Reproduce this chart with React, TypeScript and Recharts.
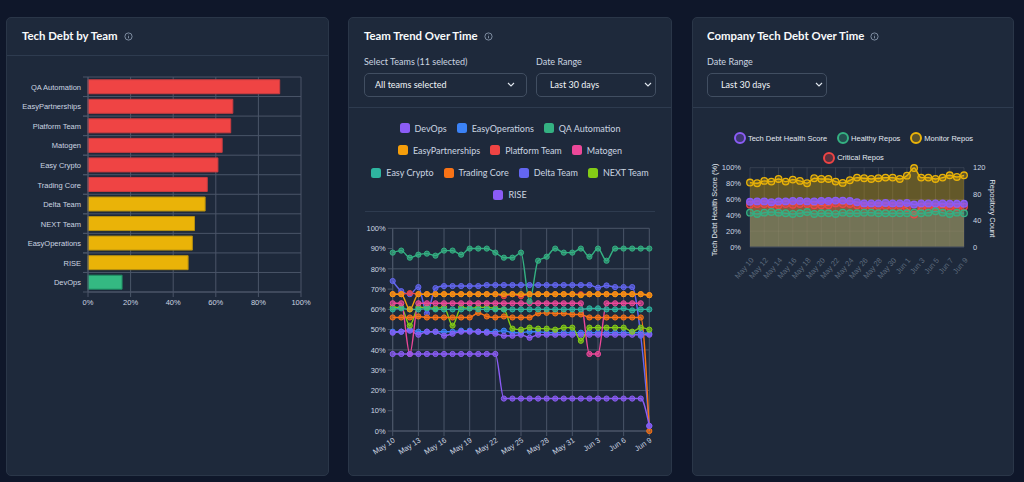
import {
  Area,
  Bar,
  BarChart,
  CartesianGrid,
  Cell,
  ComposedChart,
  Line,
  LineChart,
  XAxis,
  YAxis,
} from 'recharts';

const barTeams = ['QA Automation', 'EasyPartnerships', 'Platform Team', 'Matogen', 'Easy Crypto', 'Trading Core', 'Delta Team', 'NEXT Team', 'EasyOperations', 'RISE', 'DevOps'];
const barValues = [90, 68, 67, 63, 61, 56, 55, 50, 49, 47, 16];
const barColors = ['#ef4444', '#ef4444', '#ef4444', '#ef4444', '#ef4444', '#ef4444', '#eab308', '#eab308', '#eab308', '#eab308', '#34b982'];
const barBorders = ['#c93c40', '#c93c40', '#c93c40', '#c93c40', '#c93c40', '#c93c40', '#b58f10', '#b58f10', '#b58f10', '#b58f10', '#1f8a62'];

const dates = ['May 10', 'May 11', 'May 12', 'May 13', 'May 14', 'May 15', 'May 16', 'May 17', 'May 18', 'May 19', 'May 20', 'May 21', 'May 22', 'May 23', 'May 24', 'May 25', 'May 26', 'May 27', 'May 28', 'May 29', 'May 30', 'May 31', 'Jun 1', 'Jun 2', 'Jun 3', 'Jun 4', 'Jun 5', 'Jun 6', 'Jun 7', 'Jun 8', 'Jun 9'];

const devOps = [38, 38, 38, 38, 38, 38, 38, 38, 38, 38, 38, 38, 38, 16, 16, 16, 16, 16, 16, 16, 16, 16, 16, 16, 16, 16, 16, 16, 16, 16, 2.5];
const easyOperations = [49, 49, 50, 49, 49, 49, 49, 49, 49.5, 49.5, 49, 49, 49, 49.5, 48.5, 48.5, 49, 49, 48.5, 48.5, 48.5, 48.5, 48.5, 48.5, 48.5, 48.5, 48.5, 48.5, 48.5, 48.5, 48];
const qaAutomation = [88, 89, 85.5, 87, 87.5, 86.5, 89, 89, 87, 90, 90, 90, 88, 85.5, 85.5, 88, 64, 84, 86, 90, 88, 88, 90, 86, 90, 84, 90, 90, 90, 90, 90];
const easyPartnerships = [67.5, 67.5, 60, 67.5, 67.5, 67.5, 67.5, 67.5, 67.5, 67.5, 67.5, 67.5, 67.5, 67.5, 67.5, 67.5, 67.5, 67.5, 67.5, 67.5, 67.5, 67.5, 67, 67.5, 67.5, 67.5, 67.5, 67.5, 67.5, 67.5, 67];
const platformTeam = [67.5, 67.5, 68, 67.5, 67.5, 67.5, 67.5, 67.5, 67.5, 67.5, 67.5, 67.5, 67.5, 66.5, 67.5, 66.5, 67.5, 67.5, 67.5, 67.5, 67.5, 67.5, 67.5, 67.5, 67.5, 67.5, 67.5, 67.5, 67.5, 67.5, 67];
const matogen = [63, 63, 38, 63, 63, 63, 63, 63, 63, 63, 63, 63, 63, 63, 63, 63, 63, 63, 63, 63, 63, 63, 63, 38, 38, 63, 63, 63, 63, 63, null];
const easyCrypto = [60, 60.5, 60, 60, 60.5, 60, 60, 60, 60, 60.5, 60, 60, 60, 60, 60, 60, 60, 60, 60, 60, 60, 60, 60, 60.5, 60.5, 60, 60, 60.5, 59.5, 60, 60];
const tradingCore = [56, 56, 56, 56.5, 56, 56, 56, 56, 56, 56, 58.3, 56.5, 56, 56.5, 56, 56, 56, 58, 58.3, 58, 58, 57.5, 57.5, 56, 56, 56, 56, 56, 56, 56, 0];
const deltaTeam = [74, 69, 67.5, 71, 58, 70.5, 71.5, 71.5, 71.5, 71.5, 71.5, 72, 72, 72, 72, 72, 72, 72, 72, 72, 72, 72, 72, 72, 70.7, 71.8, 71, 71, 71, 47, 2.5];
const nextTeam = [61, 61, 52, 61, 61, 60.5, 61, 52, 61, 60.5, 61, 61, 60.5, 60, 50.5, 50, 51, 50.5, 50.5, 50, 51, 51, 44.5, 51, 51, 51, 51, 51, 49, 51, 50];
const rise = [48.5, 49, 49.5, 47.5, 49, 49, 47, 48, 49, 49, 49, 48.5, 48, 47, 47, 47.5, 46, 47.5, 47.5, 47.5, 47.5, 47.5, 47.5, 47.5, 47.5, 47.5, 47.5, 47.5, 47.5, 47.5, 47.5];

const teamNames = ['DevOps', 'EasyOperations', 'QA Automation', 'EasyPartnerships', 'Platform Team', 'Matogen', 'Easy Crypto', 'Trading Core', 'Delta Team', 'NEXT Team', 'RISE'];
const teamSeries = [devOps, easyOperations, qaAutomation, easyPartnerships, platformTeam, matogen, easyCrypto, tradingCore, deltaTeam, nextTeam, rise];
const teamColors = ['#8b5cf6', '#3b82f6', '#34b182', '#f59e0b', '#ef4444', '#ec4899', '#2eb5a0', '#f97316', '#6366f1', '#84cc16', '#8b5cf6'];
const legendRows = [[0, 3], [3, 6], [6, 10], [10, 11]];
// EasyOperations sits under everything else, its dots are barely visible in the picture
const drawOrder = ['EasyOperations', 'RISE', 'NEXT Team', 'Delta Team', 'Trading Core', 'Easy Crypto', 'Matogen', 'Platform Team', 'EasyPartnerships', 'QA Automation', 'DevOps'];

const healthScore = [57, 57.5, 57.5, 56.5, 57.5, 57.5, 58, 58, 57.5, 57.5, 58, 58, 58.5, 58.5, 58, 56.5, 55, 55, 55, 55.5, 55, 55, 55.5, 53.5, 55, 55, 55, 55, 54.5, 54.5, 54.5];
const healthyRepos = [52, 50, 52, 53, 52, 51, 50, 51, 53, 50, 51, 51, 50, 52, 51, 51, 52, 52, 51, 51, 51, 51, 51, 52, 51, 52, 54, 52, 50, 52, 51];
const monitorRepos = [97.5, 96.5, 100, 99, 103, 99, 102, 100, 96.5, 104, 103, 103, 99, 97, 101, 105, 104, 103, 104, 105, 105, 103, 108, 119.5, 105, 105, 103, 105, 108.5, 106, 108.5];
const criticalRepos = [64, 65, 65, 64, 63, 65, 64, 65, 65, 63, 63, 63, 66, 65, 65, 63, 62, 62, 62, 62, 62, 62, 59, 49, 61, 61, 61, 60, 61, 60, 61];

const companyNames = ['Tech Debt Health Score', 'Healthy Repos', 'Monitor Repos', 'Critical Repos'];
const companyColors = ['#8b5cf6', '#34b182', '#eab308', '#ef4444'];
const companySeries = [healthScore, healthyRepos, monitorRepos, criticalRepos];
const companyAxes = ['left', 'right', 'right', 'right'];
const companyFill = [0.1, 0.3, 0.34, 0.3];
const companyDotFill = [0.8, 0.35, 0.3, 0.4];

const barData = barTeams.map((team, i) => ({ team, value: barValues[i] }));
const teamData = dates.map((date, i) => {
  const row: Record<string, any> = { date };
  teamNames.forEach((name, s) => { row[name] = teamSeries[s][i]; });
  return row;
});
const companyData = dates.map((date, i) => {
  const row: Record<string, any> = { date };
  companyNames.forEach((name, s) => { row[name] = companySeries[s][i]; });
  return row;
});

const titleFont = 'Lato, "Noto Sans", sans-serif';
const chartFont = '"Liberation Sans", Arial, sans-serif';
const gridColor = '#4a5568';
const tickStyle = { fontSize: 7.5, fill: '#cbd5e1', fontFamily: chartFont };

const Card = ({ left, width, children }: any) => (
  <div style={{ position: 'absolute', left, top: 17, width, height: 459, boxSizing: 'border-box', background: '#1e293b', border: '1px solid #2a3648', borderRadius: 5 }}>
    {children}
  </div>
);

const Title = ({ left, text }: any) => (
  <div style={{ position: 'absolute', left, top: 9, height: 18, lineHeight: '18px', whiteSpace: 'nowrap', color: '#f8fafc', fontFamily: titleFont, fontWeight: 700, fontSize: 11.4, display: 'flex', alignItems: 'center', gap: 6 }}>
    {text}
    <svg width="9" height="9" viewBox="0 0 10 10">
      <circle cx="5" cy="5" r="4" fill="none" stroke="#94a3b8" strokeWidth="0.9" />
      <path d="M5 4.6v2.4M5 3v0.6" stroke="#94a3b8" strokeWidth="0.9" />
    </svg>
  </div>
);

const Divider = ({ left, right, top }: any) => (
  <div style={{ position: 'absolute', left, right, top, height: 1, background: '#2e3b4f' }} />
);

const Select = ({ left, top, width, text, pad, label }: any) => (
  <>
    <div style={{ position: 'absolute', left, top: top - 17, color: '#cbd5e1', fontFamily: titleFont, fontSize: 9, lineHeight: '12px', whiteSpace: 'nowrap' }}>{label}</div>
    <div style={{ position: 'absolute', left, top, width, height: 24, boxSizing: 'border-box', border: '1px solid #414e61', borderRadius: 5, color: '#f1f5f9', fontFamily: titleFont, fontSize: 9, lineHeight: '22px', paddingLeft: pad, whiteSpace: 'nowrap' }}>
      {text}
      <svg width="8" height="6" viewBox="0 0 8 6" style={{ position: 'absolute', right: pad > 12 ? 3 : 11, top: 8 }}>
        <path d="M1 1l3 3 3-3" fill="none" stroke="#e2e8f0" strokeWidth="1.1" />
      </svg>
    </div>
  </>
);

// category boundaries get the grid line and a small stub, like the original chart
const BarTick = ({ x, y, payload }: any) => (
  <g>
    <line x1={x + 2} x2={x + 7} y1={y - 9.77} y2={y - 9.77} stroke={gridColor} />
    <line x1={x + 2} x2={x + 7} y1={y + 9.77} y2={y + 9.77} stroke={gridColor} />
    <text x={x} y={y} dy={3} textAnchor="end" {...tickStyle}>{payload.value}</text>
  </g>
);

export default function App() {
  return (
    <div style={{ position: 'absolute', left: 0, top: 0, width: 1024, height: 482, overflow: 'hidden', background: '#0f172a' }}>
      <Card left={6} width={323}>
        <Title left={15} text="Tech Debt by Team" />
        <Divider left={0} right={0} top={37} />
      </Card>
      <Card left={348} width={324}>
        <Title left={15} text="Team Trend Over Time" />
        <Select left={15} top={55} width={163} text="All teams selected" pad={10} label="Select Teams (11 selected)" />
        <Select left={187} top={55} width={120} text="Last 30 days" pad={13} label="Date Range" />
        <Divider left={0} right={0} top={89} />
        {legendRows.map(([from, to]: number[], r: number) => (
          <div key={r} style={{ position: 'absolute', left: 0, right: 0, top: 100 + r * 22.3, height: 20, display: 'flex', justifyContent: 'center', alignItems: 'center', gap: 10 }}>
            {teamNames.slice(from, to).map((name, i) => (
              <div key={name} style={{ display: 'flex', alignItems: 'center', gap: 5, whiteSpace: 'nowrap', color: '#cbd5e1', fontFamily: titleFont, fontSize: 9 }}>
                <span style={{ width: 10, height: 10, borderRadius: 2.5, background: teamColors[from + i] }} />
                {name}
              </div>
            ))}
          </div>
        ))}
        <Divider left={16} right={16} top={193} />
      </Card>
      <Card left={692} width={322}>
        <Title left={14} text="Company Tech Debt Over Time" />
        <Select left={14} top={55} width={120} text="Last 30 days" pad={13} label="Date Range" />
        <Divider left={0} right={0} top={89} />
        {[[0, 3], [3, 4]].map(([from, to]: number[], r: number) => (
          <div key={r} style={{ position: 'absolute', left: 0, right: -1, top: 112 + r * 19.5, height: 16, display: 'flex', justifyContent: 'center', alignItems: 'center', gap: 10 }}>
            {companyNames.slice(from, to).map((name, i) => (
              <div key={name} style={{ display: 'flex', alignItems: 'center', gap: 2, whiteSpace: 'nowrap', color: '#e2e8f0', fontFamily: chartFont, fontSize: 7.5 }}>
                <span style={{ width: 8, height: 8, borderRadius: '50%', border: `2px solid ${companyColors[from + i]}`, background: companyColors[from + i] + '4d' }} />
                {name}
              </div>
            ))}
          </div>
        ))}
      </Card>

      <div style={{ position: 'absolute', left: 8, top: 60 }}>
        <BarChart width={320} height={262} data={barData} layout="vertical" margin={{ top: 17, right: 27, bottom: 0, left: 10 }} barCategoryGap="14%">
          <CartesianGrid
            stroke={gridColor}
            strokeWidth={1}
            horizontalCoordinatesGenerator={({ offset }: any) => barTeams.map((_, i) => offset.top + (i * offset.height) / barTeams.length).concat(offset.top + offset.height)}
          />
          <XAxis type="number" domain={[0, 100]} ticks={[0, 20, 40, 60, 80, 100]} tickFormatter={(v: number) => `${v}%`} tick={tickStyle} tickSize={5} tickMargin={3} stroke={gridColor} height={30} />
          <YAxis type="category" dataKey="team" width={70} tick={<BarTick />} tickLine={false} tickSize={0} tickMargin={7} interval={0} stroke={gridColor} />
          <Bar dataKey="value" isAnimationActive={false}>
            {barData.map((row, i) => (
              <Cell key={row.team} fill={barColors[i]} stroke={barBorders[i]} strokeWidth={1} />
            ))}
          </Bar>
        </BarChart>
      </div>

      <div style={{ position: 'absolute', left: 349, top: 220 }}>
        <LineChart width={323} height={250} data={teamData} margin={{ top: 8.3, right: 22.7, bottom: 0, left: 8.7 }}>
          <CartesianGrid stroke={gridColor} strokeWidth={1} />
          <XAxis dataKey="date" interval={2} tick={tickStyle} angle={-33} textAnchor="end" tickSize={5} tickMargin={1} height={39} stroke={gridColor} />
          <YAxis domain={[0, 100]} ticks={[0, 10, 20, 30, 40, 50, 60, 70, 80, 90, 100]} tickFormatter={(v: number) => `${v}%`} tick={tickStyle} tickSize={5} tickMargin={2} width={35} stroke={gridColor} />
          {drawOrder.map((name) => {
            const color = teamColors[teamNames.indexOf(name)];
            return (
              <Line
                key={name}
                type="monotone"
                dataKey={name}
                stroke={color}
                strokeWidth={1.4}
                dot={{ r: 2.6, fill: color, fillOpacity: 0.65, stroke: color, strokeWidth: 1 }}
                activeDot={false}
                isAnimationActive={false}
              />
            );
          })}
        </LineChart>
      </div>

      <div style={{ position: 'absolute', left: 692, top: 160 }}>
        <ComposedChart width={322} height={122} data={companyData} margin={{ top: 7.7, right: 20, bottom: 0, left: 20 }}>
          <CartesianGrid stroke="#ffffff" strokeOpacity={0.1} strokeWidth={1} yAxisId="left" />
          <XAxis dataKey="date" scale="point" interval={1} tick={{ ...tickStyle, fill: '#5d6a7c' }} angle={-50} textAnchor="end" tickLine={false} tickMargin={4} height={35} stroke="#3a4658" />
          <YAxis
            yAxisId="left"
            domain={[0, 100]}
            ticks={[0, 20, 40, 60, 80, 100]}
            tickFormatter={(v: number) => `${v}%`}
            tick={tickStyle}
            tickLine={false}
            tickMargin={3}
            width={38}
            axisLine={false}
            label={{ value: 'Tech Debt Health Score (%)', angle: -90, position: 'insideLeft', dx: -3, dy: 49, style: { ...tickStyle, fill: '#e2e8f0' } }}
          />
          <YAxis
            yAxisId="right"
            orientation="right"
            domain={[0, 120]}
            ticks={[0, 20, 40, 60, 80, 100, 120]}
            tick={tickStyle}
            tickLine={false}
            tickMargin={3}
            width={30}
            axisLine={false}
            label={{ value: 'Repository Count', angle: 90, position: 'insideRight', dx: 4, dy: 30, style: { ...tickStyle, fill: '#e2e8f0' } }}
          />
          {[...companyNames].reverse().map((name) => {
            const s = companyNames.indexOf(name);
            const color = companyColors[s];
            return (
              <Area
                key={name}
                yAxisId={companyAxes[s]}
                type="monotone"
                dataKey={name}
                stroke={color}
                strokeWidth={1.4}
                fill={color}
                fillOpacity={companyFill[s]}
                dot={{ r: 3.3, fill: color, fillOpacity: companyDotFill[s], stroke: color, strokeWidth: 1.3 }}
                activeDot={false}
                isAnimationActive={false}
              />
            );
          })}
        </ComposedChart>
      </div>
    </div>
  );
}
